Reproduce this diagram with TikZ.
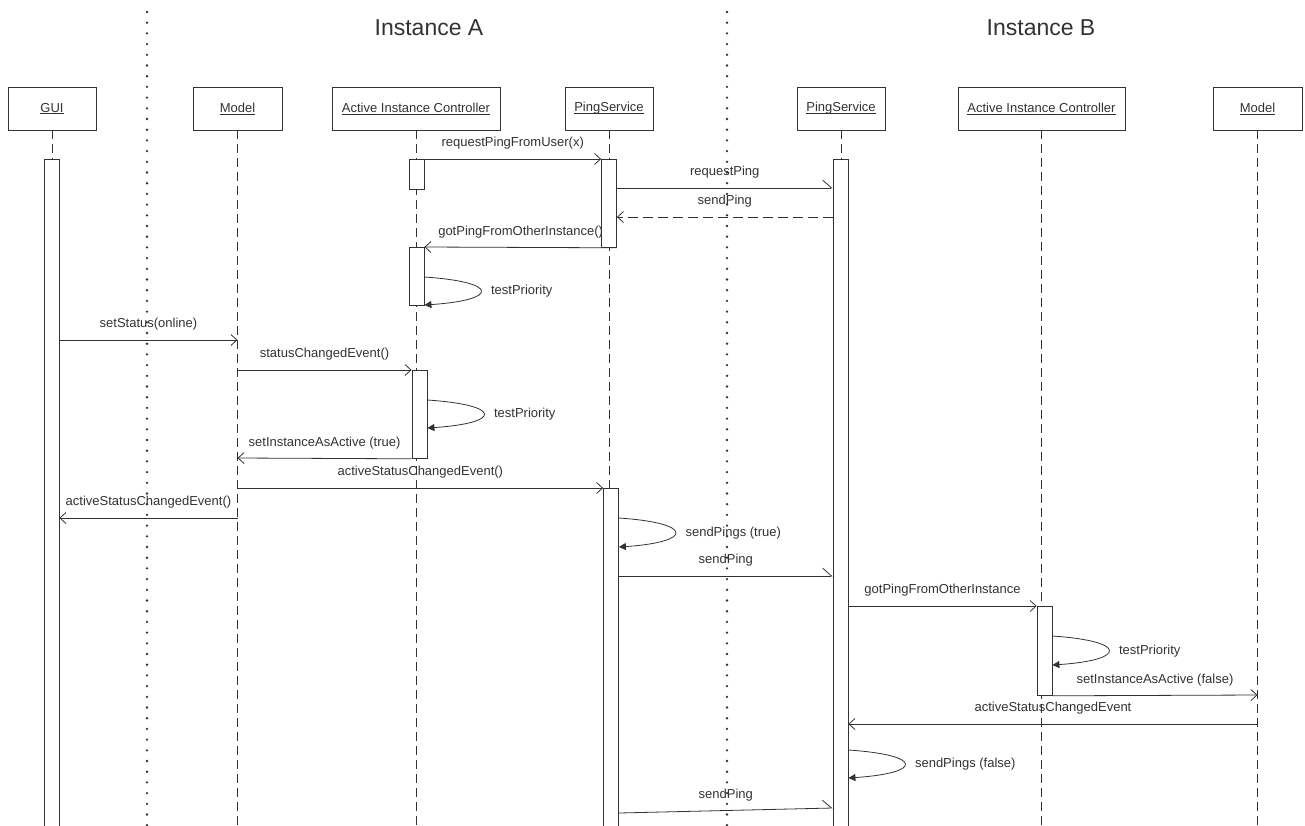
\documentclass[tikz,border=0pt]{standalone}
\usepackage{fontspec}
\setmainfont{Liberation Sans}
\usetikzlibrary{arrows.meta}

\definecolor{ink}{RGB}{50,50,50}
\newcommand{\objname}[1]{\setbox0\hbox{#1}\rlap{\rule[-2pt]{\wd0}{0.6pt}}\box0}

\begin{document}
\begin{tikzpicture}[x=1pt, y=-1pt, line width=0.8pt, ink,
	object/.style={draw, minimum height=43pt, inner sep=0pt, font=\fontsize{13}{15}\selectfont},
	act/.style={draw, fill=white, minimum width=15pt, inner sep=0pt, anchor=north},
	lifeline/.style={dash pattern=on 9pt off 5pt},
	divider/.style={line width=2.6pt, line cap=round, dash pattern=on 0pt off 10.7pt},
	msg/.style={-{Straight Barb[length=6pt, width=11pt]}},
	halfmsg/.style={-{Straight Barb[harpoon, length=9pt, width=16pt]}},
	reply/.style={msg, dash pattern=on 10pt off 5pt},
	selfcall/.style={-{Triangle[length=7pt, width=7pt]}},
	lbl/.style={font=\fontsize{13}{15}\selectfont, text height=10pt, text depth=3pt, inner sep=3pt, above=6pt},
	selflbl/.style={font=\fontsize{13}{15}\selectfont, text height=10pt, text depth=3pt, inner sep=3pt, anchor=west, xshift=7pt},
	instance/.style={font=\fontsize{23}{27}\selectfont}]

	\useasboundingbox (0,0) rectangle (1305,825);

	\node[instance] (instA) at (429,28) {Instance A};
	\node[instance] (instB) at (1041,28) {Instance B};

	\draw[divider] (147,12) -- (147,830);
	\draw[divider] (727,12) -- (727,830);

	\node[object, minimum width=88pt] (gui) at (52,108.5) {\objname{GUI}};
	\node[object, minimum width=89pt] (modelA) at (237.5,108.5) {\objname{Model}};
	\node[object, minimum width=168pt] (ctrlA) at (416,108.5) {\objname{Active Instance Controller}};
	\node[object, minimum width=88pt] (pingA) at (609,108.5) {\objname{PingService}};
	\node[object, minimum width=88pt] (pingB) at (841,108.5) {\objname{PingService}};
	\node[object, minimum width=167pt] (ctrlB) at (1041.5,108.5) {\objname{Active Instance Controller}};
	\node[object, minimum width=89pt] (modelB) at (1257.5,108.5) {\objname{Model}};

	\coordinate (bottom) at (0,830);
	\foreach \obj in {gui,modelA,ctrlA,pingA,pingB,ctrlB,modelB}
		\draw[lifeline] (\obj.south) -- (\obj.south |- bottom);

	\node[act, minimum height=680pt] (guiAct) at (51.5,159) {};
	\node[act, minimum height=30pt] (ctrlA1) at (416.5,159) {};
	\node[act, minimum height=88pt] (pingA1) at (609,159) {};
	\node[act, minimum height=680pt] (pingBAct) at (840.5,159) {};
	\node[act, minimum height=58pt] (ctrlA2) at (416.5,247) {};
	\node[act, minimum height=88pt] (ctrlA3) at (419.5,370) {};
	\node[act, minimum height=400pt] (pingA2) at (611,488) {};
	\node[act, minimum height=89pt] (ctrlB1) at (1044.5,606) {};

	% message rows
	\coordinate (r2) at (0,188);
	\coordinate (r3) at (0,217);
	\coordinate (r5) at (0,277);
	\coordinate (r6) at (0,340);
	\coordinate (r7) at (0,370);
	\coordinate (r8) at (0,400);
	\coordinate (r9) at (0,458);
	\coordinate (r10) at (0,488);
	\coordinate (r11) at (0,518);
	\coordinate (r12) at (0,576);
	\coordinate (r14) at (0,636);
	\coordinate (r15) at (0,695);
	\coordinate (r16) at (0,724);
	\coordinate (r17) at (0,750);
	\coordinate (r18) at (0,813);
	\coordinate (r19) at (0,808);

	\draw[msg] (ctrlA1.north east) -- node[lbl] {requestPingFromUser(x)} (pingA1.north west);
	\draw[halfmsg] (pingA1.east |- r2) -- node[lbl] {requestPing} (pingBAct.west |- r2);
	\draw[reply] (pingBAct.west |- r3) -- node[lbl] {sendPing} (pingA1.east |- r3);
	\draw[msg] (pingA1.south east) -- node[lbl] {gotPingFromOtherInstance()} (ctrlA2.north east);
	\draw[selfcall] (ctrlA2.east |- r5) .. controls +(75,5) and +(75,-5) .. ++(0,28)
		node[selflbl, pos=0.5] {testPriority};

	\draw[msg] (guiAct.east |- r6) -- node[lbl] {setStatus(online)} (modelA.south |- r6);
	\draw[msg] (modelA.south |- r7) -- node[lbl] {statusChangedEvent()} (ctrlA3.north west);
	\draw[selfcall] (ctrlA3.east |- r8) .. controls +(75,5) and +(75,-5) .. ++(0,28)
		node[selflbl, pos=0.5] {testPriority};
	\draw[msg] (ctrlA3.south west) -- node[lbl] {setInstanceAsActive (true)} (modelA.south |- r9);
	\draw[msg] (modelA.south |- r10) -- node[lbl] {activeStatusChangedEvent()} (pingA2.north west);
	\draw[msg] (modelA.south |- r11) -- node[lbl] {activeStatusChangedEvent()} (guiAct.east |- r11);
	\draw[selfcall] (pingA2.east |- r11) .. controls +(75,5) and +(75,-5) .. ++(0,29)
		node[selflbl, pos=0.5] {sendPings (true)};
	\draw[halfmsg] (pingA2.east |- r12) -- node[lbl] {sendPing} (pingBAct.west |- r12);

	\draw[msg] (pingBAct.east |- ctrlB1.north) -- node[lbl] {gotPingFromOtherInstance} (ctrlB1.north west);
	\draw[selfcall] (ctrlB1.east |- r14) .. controls +(75,5) and +(75,-5) .. ++(0,29)
		node[selflbl, pos=0.5] {testPriority};
	\draw[msg] (ctrlB1.south east) -- node[lbl] {setInstanceAsActive (false)} (modelB.south |- r15);
	\draw[msg] (modelB.south |- r16) -- node[lbl] {activeStatusChangedEvent} (pingBAct.east |- r16);
	\draw[selfcall] (pingBAct.east |- r17) .. controls +(75,5) and +(75,-5) .. ++(0,28)
		node[selflbl, pos=0.5] {sendPings (false)};
	\draw[halfmsg] (pingA2.east |- r18) -- node[lbl] {sendPing} (pingBAct.west |- r19);
\end{tikzpicture}
\end{document}
